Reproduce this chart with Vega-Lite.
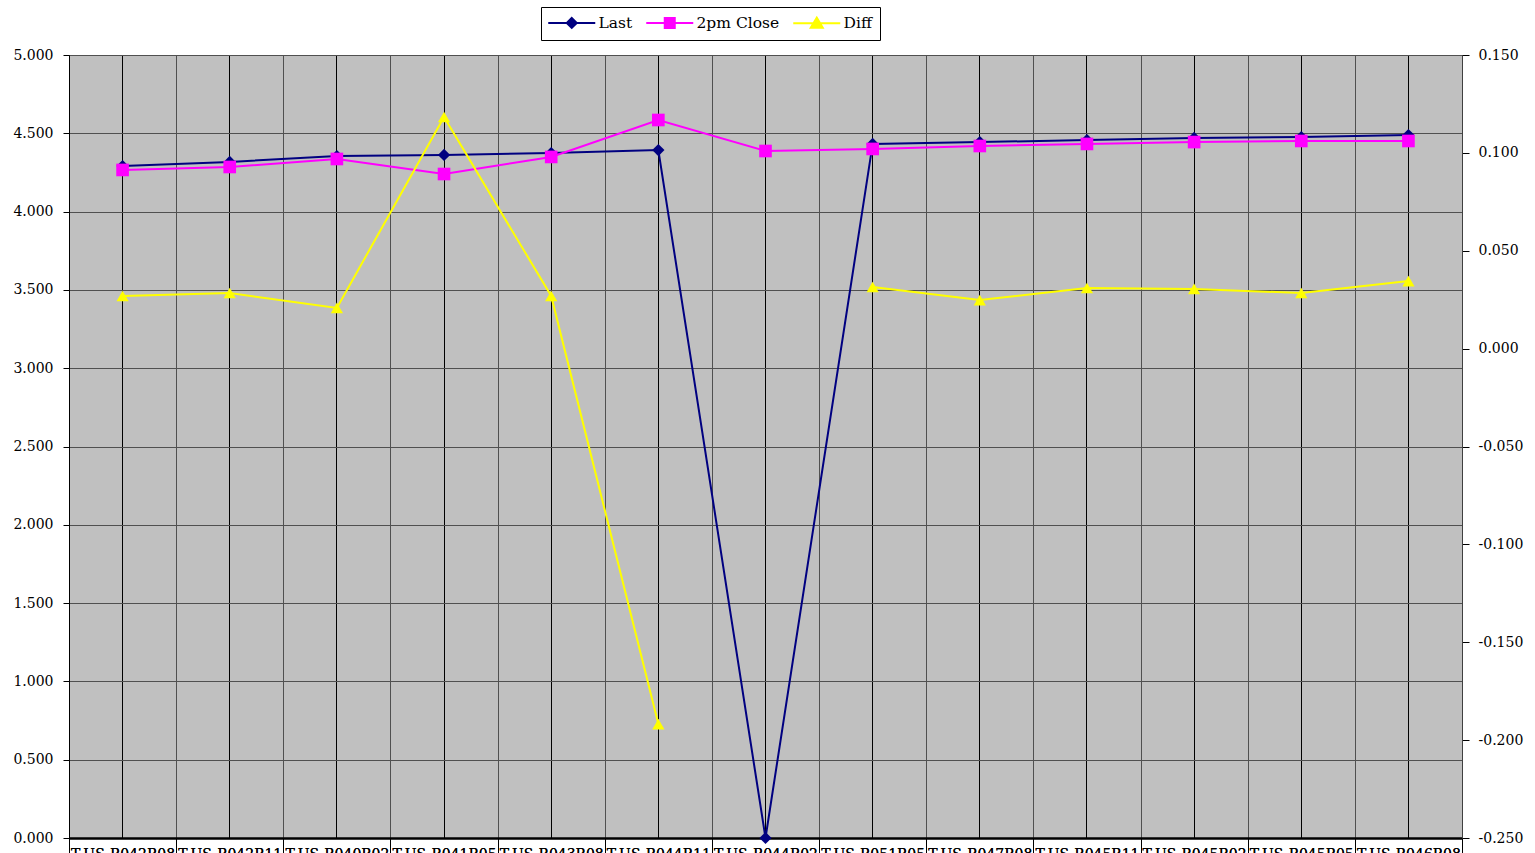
{
  "$schema": "https://vega.github.io/schema/vega-lite/v6.json",
  "width": 1393,
  "height": 783,
  "autosize": {"type": "none"},
  "padding": {"left": 69, "top": 55, "right": 73, "bottom": 15},
  "background": "white",
  "config": {
    "view": {"fill": "#C0C0C0", "stroke": "#808080", "strokeWidth": 1},
    "font": "DejaVu Serif",
    "axis": {"labelFont": "DejaVu Serif", "labelFontSize": 14, "labelColor": "black", "domainColor": "black", "tickColor": "black", "gridOpacity": 1}
  },
  "data": {
    "values": [
      {"id": "T-US-B042B08", "Last": 4.291, "Close": 4.266, "Diff": 0.0269},
      {"id": "T-US-B042B11", "Last": 4.317, "Close": 4.285, "Diff": 0.0284},
      {"id": "T-US-B040B02", "Last": 4.355, "Close": 4.336, "Diff": 0.0208},
      {"id": "T-US-B041B05", "Last": 4.362, "Close": 4.240, "Diff": 0.1183},
      {"id": "T-US-B043B08", "Last": 4.374, "Close": 4.349, "Diff": 0.0269},
      {"id": "T-US-B044B11", "Last": 4.393, "Close": 4.585, "Diff": -0.1918},
      {"id": "T-US-B044B02", "Last": 0, "Close": 4.387, "Diff": null},
      {"id": "T-US-B051B05", "Last": 4.432, "Close": 4.400, "Diff": 0.0315},
      {"id": "T-US-B047B08", "Last": 4.444, "Close": 4.419, "Diff": 0.0248},
      {"id": "T-US-B045B11", "Last": 4.457, "Close": 4.432, "Diff": 0.0310},
      {"id": "T-US-B045B02", "Last": 4.470, "Close": 4.444, "Diff": 0.0305},
      {"id": "T-US-B045B05", "Last": 4.476, "Close": 4.451, "Diff": 0.0284},
      {"id": "T-US-B046B08", "Last": 4.489, "Close": 4.451, "Diff": 0.0345}
    ]
  },
  "encoding": {
    "x": {
      "field": "id", "type": "nominal", "sort": null, "title": null,
      "scale": {"type": "band", "paddingInner": 0, "paddingOuter": 0},
      "axis": {
        "orient": "bottom", "tickBand": "extent", "grid": true, "gridColor": "#505050",
        "tickSize": 20, "labelPadding": -11, "labelAngle": 0, "domainWidth": 2,
        "labelOverlap": false
      }
    }
  },
  "layer": [
    {
      "encoding": {
        "y": {
          "type": "quantitative", "title": null,
          "scale": {"domain": [0, 5], "nice": false, "zero": false},
          "axis": {
            "orient": "left", "values": [0, 0.5, 1, 1.5, 2, 2.5, 3, 3.5, 4, 4.5, 5],
            "format": ".3f", "grid": true, "gridColor": "#505050",
            "tickSize": 6, "labelPadding": 10, "title": null
          }
        }
      },
      "layer": [
        {
          "mark": {"type": "line", "strokeWidth": 2},
          "encoding": {
            "y": {
              "field": "Last", "type": "quantitative", "title": null,
              "scale": {"domain": [0, 5], "nice": false, "zero": false},
              "axis": {
                "orient": "left", "values": [0, 0.5, 1, 1.5, 2, 2.5, 3, 3.5, 4, 4.5, 5],
                "format": ".3f", "grid": true, "gridColor": "#505050",
                "tickSize": 6, "labelPadding": 10, "title": null
              }
            },
            "color": {
              "datum": "Last",
              "scale": {"domain": ["Last", "2pm Close", "Diff"], "range": ["#000080", "#FF00FF", "#FFFF00"]},
              "legend": {
                "orient": "none", "legendX": 472, "legendY": -48, "direction": "horizontal",
                "title": null, "fillColor": "white", "strokeColor": "black", "padding": 8,
                "symbolSize": 100, "symbolOffset": 15, "labelOffset": 19, "columnPadding": 9,
                "labelFont": "DejaVu Serif", "labelFontSize": 15.5, "labelColor": "black",
                "encode": {
                  "symbols": {
                    "update": {
                      "shape": {"signal": "datum.value === 'Last' ? 'M-4.7,0H4.7M0,-1L1,0L0,1L-1,0Z' : datum.value === '2pm Close' ? 'M-4.7,0H4.7M-1,-1H1V1H-1Z' : 'M-4.7,0H4.7M0,-1.1L1.2,0.9H-1.2Z'"},
                      "fill": {"signal": "scale('color', datum.value)"},
                      "stroke": {"signal": "scale('color', datum.value)"},
                      "strokeWidth": {"value": 2},
                      "opacity": {"value": 1}
                    }
                  }
                }
              }
            }
          }
        },
        {
          "mark": {"type": "point", "shape": "diamond", "filled": true, "size": 150, "opacity": 1},
          "encoding": {
            "y": {"field": "Last"},
            "color": {"datum": "Last", "scale": {"domain": ["Last", "2pm Close", "Diff"], "range": ["#000080", "#FF00FF", "#FFFF00"]}}
          }
        },
        {
          "mark": {"type": "line", "strokeWidth": 2},
          "encoding": {
            "y": {"field": "Close"},
            "color": {"datum": "2pm Close", "scale": {"domain": ["Last", "2pm Close", "Diff"], "range": ["#000080", "#FF00FF", "#FFFF00"]}}
          }
        },
        {
          "mark": {"type": "point", "shape": "square", "filled": true, "size": 160, "opacity": 1},
          "encoding": {
            "y": {"field": "Close"},
            "color": {"datum": "2pm Close", "scale": {"domain": ["Last", "2pm Close", "Diff"], "range": ["#000080", "#FF00FF", "#FFFF00"]}}
          }
        }
      ]
    },
    {
      "encoding": {
        "y": {
          "type": "quantitative", "title": null,
          "scale": {"domain": [-0.25, 0.15], "nice": false, "zero": false},
          "axis": {
            "orient": "right", "values": [-0.25, -0.2, -0.15, -0.1, -0.05, 0, 0.05, 0.1, 0.15],
            "format": ".3f", "labelExpr": "replace(datum.label, '\u2212', '-')",
            "grid": false, "tickSize": 7, "labelPadding": 9, "domainColor": "#404040", "title": null
          }
        }
      },
      "layer": [
        {
          "mark": {"type": "line", "strokeWidth": 2, "invalid": "break-paths-show-domains"},
          "encoding": {
            "x": {
              "field": "id", "type": "nominal", "sort": null, "title": null,
              "scale": {"type": "band", "paddingInner": 0, "paddingOuter": 0},
              "axis": {"orient": "top", "grid": true, "gridColor": "black", "ticks": false, "labels": false, "domain": false}
            },
            "y": {"field": "Diff"},
            "color": {"datum": "Diff", "scale": {"domain": ["Last", "2pm Close", "Diff"], "range": ["#000080", "#FF00FF", "#FFFF00"]}}
          }
        },
        {
          "mark": {"type": "point", "shape": "triangle-up", "filled": true, "size": 150, "opacity": 1},
          "encoding": {
            "y": {"field": "Diff"},
            "color": {"datum": "Diff", "scale": {"domain": ["Last", "2pm Close", "Diff"], "range": ["#000080", "#FF00FF", "#FFFF00"]}}
          }
        }
      ]
    }
  ],
  "resolve": {"scale": {"y": "independent"}}
}
